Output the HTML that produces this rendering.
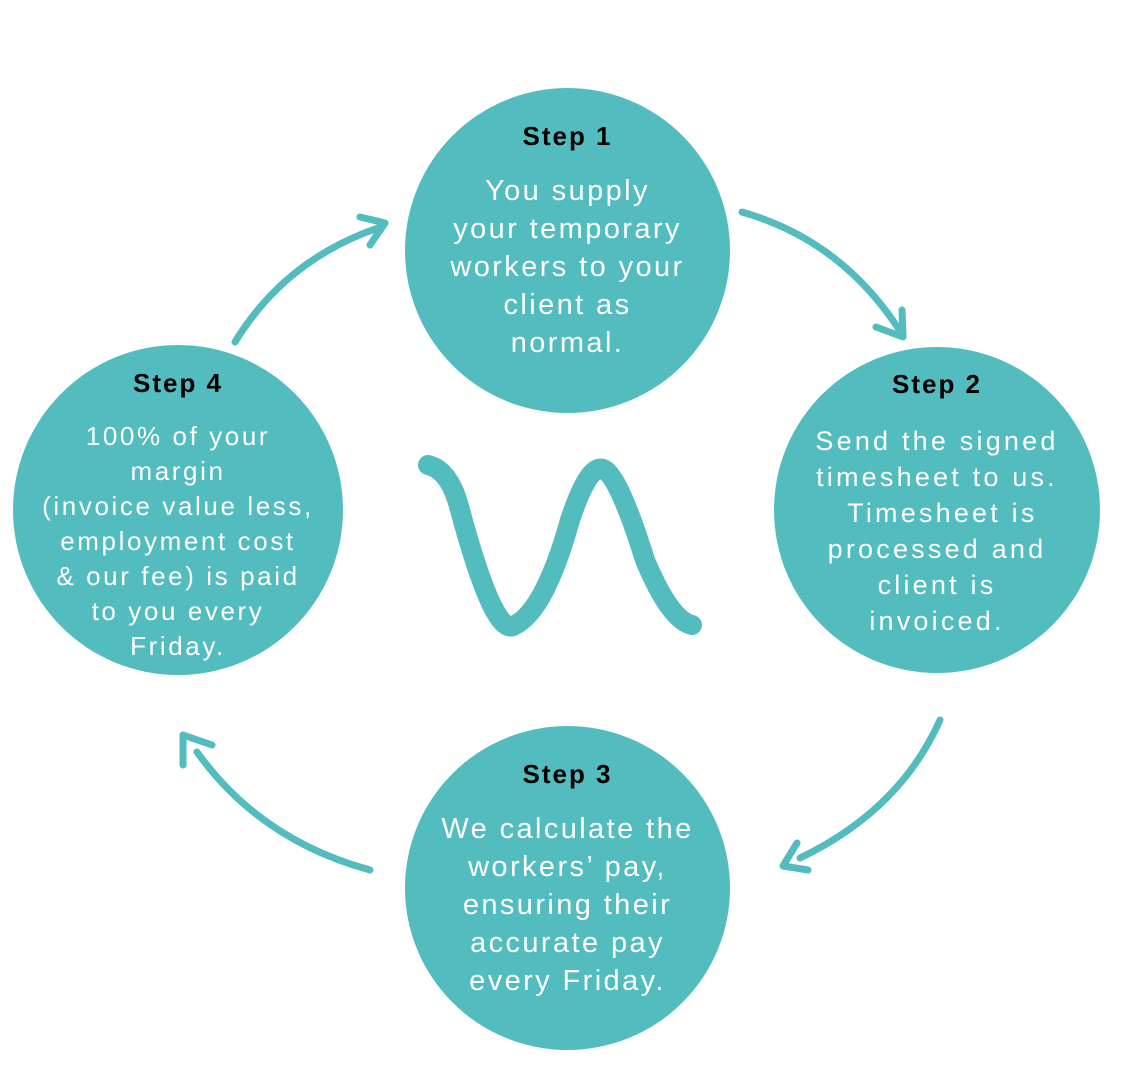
<!DOCTYPE html>
<html><head><style>
body{margin:0;width:1134px;height:1080px;background:#fff;position:relative;overflow:hidden;font-family:"Liberation Sans",sans-serif}
.c{position:absolute;border-radius:50%;background:#53bcbf;text-align:center;color:#fff}
.c b{position:absolute;left:0;right:0;color:#000;font-size:26px;letter-spacing:2px;font-weight:900}
.c p{position:absolute;left:-20px;right:-20px;margin:0}
</style></head><body>
<svg width="1134" height="1080" style="position:absolute;left:0;top:0" fill="none" stroke="#53bcbf" stroke-linecap="round" stroke-linejoin="round">
<g stroke-width="7">
<path d="M742 212 Q840 240 898 328"/><path d="M902 310 L903 337 L876 327"/>
<path d="M940 720 Q900 810 800 858"/><path d="M797 843 L783 866 L808 870"/>
<path d="M370 870 Q260 840 197 752"/><path d="M183 765 L183 735 L212 745"/>
<path d="M235 342 Q285 260 378 228"/><path d="M360 217 L385 223 L370 245"/>
</g>
<path d="M428 465 Q450 470 460 510 Q495 640 515 625 Q545 610 570 520 Q590 460 605 470 Q620 480 645 560 Q670 620 692 625" stroke-width="20"/>
</svg>
<div class="c" style="left:405px;top:88px;width:325px;height:325px">
<b style="top:33px">Step 1</b>
<p style="top:84px;font-size:29px;line-height:38px;letter-spacing:2.4px">You supply<br>your temporary<br>workers to your<br>client as<br>normal.</p></div>
<div class="c" style="left:774px;top:347px;width:326px;height:326px">
<b style="top:22px">Step 2</b>
<p style="top:76px;font-size:27px;line-height:36px;letter-spacing:3.2px">Send the signed<br>timesheet to us.<br>&nbsp;Timesheet is<br>processed and<br>client is<br>invoiced.</p></div>
<div class="c" style="left:405px;top:726px;width:325px;height:324px">
<b style="top:33px">Step 3</b>
<p style="top:84px;font-size:29px;line-height:38px;letter-spacing:2.4px">We calculate the<br>workers’ pay,<br>ensuring their<br>accurate pay<br>every Friday.</p></div>
<div class="c" style="left:13px;top:345px;width:330px;height:330px">
<b style="top:23px">Step 4</b>
<p style="top:74px;font-size:26px;line-height:35px;letter-spacing:2.6px">100% of your<br>margin<br>(invoice value less,<br>employment cost<br>&amp; our fee) is paid<br>to you every<br>Friday.</p></div>
</body></html>
